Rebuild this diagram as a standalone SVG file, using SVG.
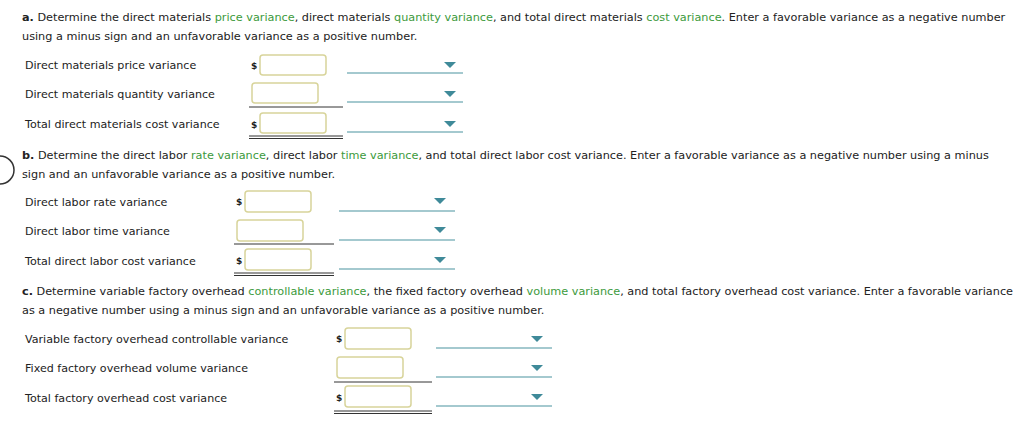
<svg xmlns="http://www.w3.org/2000/svg" width="1024" height="429" viewBox="0 0 1024 429">
<style>
text{font-family:"DejaVu Sans",Verdana,sans-serif;font-size:11.25px;fill:#222}
.g{fill:#3c9a3c}
.lb{font-size:11.1px}
.d{font-size:9px;font-weight:bold}
.box{fill:#fff;stroke:#d8d49a;stroke-width:1.5}
.ul{stroke:#333;stroke-width:1}
.dd{stroke:#4a93a0;stroke-width:1.2}
.tri{fill:#3f8a99}
</style>
<rect width="1024" height="429" fill="#fff"/>
<path d="M0,156 A14,14 0 0 1 0,184" fill="none" stroke="#333" stroke-width="1.5"/>
<g id="sec-a">
<text x="22" y="21"><tspan font-weight="bold">a.</tspan> Determine the direct materials <tspan class="g">price variance</tspan>, direct materials <tspan class="g">quantity variance</tspan>, and total direct materials <tspan class="g">cost variance</tspan>. Enter a favorable variance as a negative number</text>
<text x="22" y="40">using a minus sign and an unfavorable variance as a positive number.</text>
<text class="lb" x="25" y="69">Direct materials price variance</text>
<text class="lb" x="25" y="98">Direct materials quantity variance</text>
<text class="lb" x="25" y="128">Total direct materials cost variance</text>
<text class="d" x="251" y="69">$</text><rect class="box" x="260" y="55" width="66" height="20" rx="3"/>
<rect class="box" x="252" y="83" width="66" height="20" rx="3"/>
<line class="ul" x1="249" y1="107" x2="343" y2="107"/>
<text class="d" x="251" y="128">$</text><rect class="box" x="260" y="113" width="66" height="20" rx="3"/>
<line class="ul" x1="249" y1="136" x2="343" y2="136"/><line class="ul" x1="249" y1="138.5" x2="343" y2="138.5"/>
<line class="dd" x1="347" y1="73" x2="463" y2="73"/><path class="tri" d="M444,62h12l-6,6z"/>
<line class="dd" x1="347" y1="102" x2="463" y2="102"/><path class="tri" d="M444,91h12l-6,6z"/>
<line class="dd" x1="347" y1="132" x2="463" y2="132"/><path class="tri" d="M444,121h12l-6,6z"/>
</g>
<g id="sec-b">
<text x="22" y="159"><tspan font-weight="bold">b.</tspan> Determine the direct labor <tspan class="g">rate variance</tspan>, direct labor <tspan class="g">time variance</tspan>, and total direct labor cost variance. Enter a favorable variance as a negative number using a minus</text>
<text x="22" y="178">sign and an unfavorable variance as a positive number.</text>
<text class="lb" x="25" y="206">Direct labor rate variance</text>
<text class="lb" x="25" y="235">Direct labor time variance</text>
<text class="lb" x="25" y="265">Total direct labor cost variance</text>
<text class="d" x="236" y="205">$</text><rect class="box" x="245" y="191" width="66" height="21" rx="3"/>
<rect class="box" x="237" y="220" width="66" height="21" rx="3"/>
<line class="ul" x1="234" y1="244" x2="334" y2="244"/>
<text class="d" x="236" y="264">$</text><rect class="box" x="245" y="249" width="66" height="21" rx="3"/>
<line class="ul" x1="234" y1="273" x2="334" y2="273"/><line class="ul" x1="234" y1="275.5" x2="334" y2="275.5"/>
<line class="dd" x1="339" y1="211" x2="455" y2="211"/><path class="tri" d="M434,198h12l-6,6z"/>
<line class="dd" x1="339" y1="240" x2="455" y2="240"/><path class="tri" d="M434,227h12l-6,6z"/>
<line class="dd" x1="339" y1="269" x2="455" y2="269"/><path class="tri" d="M434,257h12l-6,6z"/>
</g>
<g id="sec-c">
<text x="22" y="295"><tspan font-weight="bold">c.</tspan> Determine variable factory overhead <tspan class="g">controllable variance</tspan>, the fixed factory overhead <tspan class="g">volume variance</tspan>, and total factory overhead cost variance. Enter a favorable variance</text>
<text x="22" y="314">as a negative number using a minus sign and an unfavorable variance as a positive number.</text>
<text class="lb" x="25" y="343">Variable factory overhead controllable variance</text>
<text class="lb" x="25" y="372">Fixed factory overhead volume variance</text>
<text class="lb" x="25" y="402">Total factory overhead cost variance</text>
<text class="d" x="336" y="342">$</text><rect class="box" x="345" y="328" width="66" height="21" rx="3"/>
<rect class="box" x="337" y="357" width="66" height="21" rx="3"/>
<line class="ul" x1="334" y1="382" x2="432" y2="382"/>
<text class="d" x="336" y="401">$</text><rect class="box" x="345" y="386" width="66" height="21" rx="3"/>
<line class="ul" x1="334" y1="411" x2="432" y2="411"/><line class="ul" x1="334" y1="413.5" x2="432" y2="413.5"/>
<line class="dd" x1="436" y1="348" x2="552" y2="348"/><path class="tri" d="M531,336h12l-6,6z"/>
<line class="dd" x1="436" y1="377" x2="552" y2="377"/><path class="tri" d="M531,365h12l-6,6z"/>
<line class="dd" x1="436" y1="406" x2="552" y2="406"/><path class="tri" d="M531,394h12l-6,6z"/>
</g>
</svg>
